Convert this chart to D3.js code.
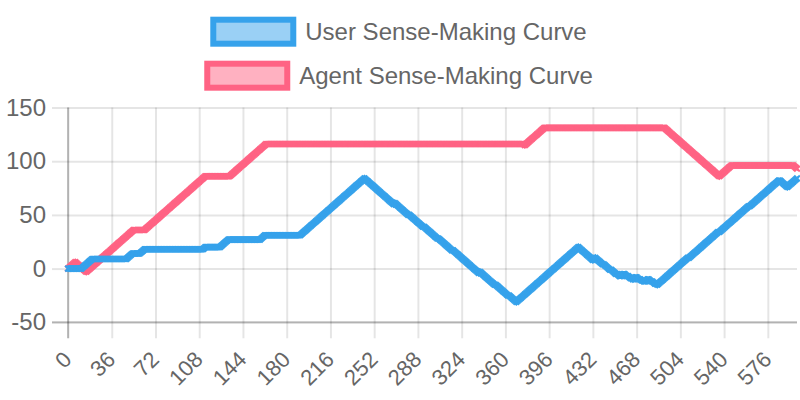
<!DOCTYPE html>
<html><head><meta charset="utf-8">
<script src="https://cdn.jsdelivr.net/npm/d3@7"></script>
<style>body{margin:0;background:#fff}svg{display:block}</style>
</head><body>
<svg id="chart" width="800" height="400"></svg>
<script>
const seriesNames = ["User Sense-Making Curve", "Agent Sense-Making Curve"];
const seriesColors = ["rgb(54,162,235)", "rgb(255,99,132)"];
const seriesFills = ["rgba(54,162,235,0.5)", "rgba(255,99,132,0.5)"];
const xTickLabels = [0,36,72,108,144,180,216,252,288,324,360,396,432,468,504,540,576];
const yTicks = [-50,0,50,100,150];

const userValues = [
0,0,0,0,0,0,0,0,0,0,0,0,1,2,3,4,5,6,7,8,9,
9,9,9,9,9,9,9,9,9,9,9,9,9,9,9,9,9,9,9,9,9,9,9,9,9,9,9,9,
10,11,12,13,14,14,14,14,14,14,14,15,16,17,18,
18,18,18,18,18,18,18,18,18,18,18,18,
18,18,18,18,18,18,18,18,18,18,18,18,
18,18,18,18,18,18,18,18,18,18,18,18,
18,18,18,18,18,18,18,18,18,18,18,18,
19,20,20,20,20,20,20,20,20,20,20,20,20,20,21,22,23,24,25,26,27,
27,27,27,27,27,27,27,27,27,27,27,27,27,
27,27,27,27,27,27,27,27,27,27,27,27,27,
28,29,30,31,
31,31,31,31,31,31,31,31,31,31,
31,31,31,31,31,31,31,31,31,31,
31,31,31,31,31,31,31,31,31,
32,33,34,35,36,37,38,39,40,41,42,43,44,45,46,47,48,49,50,51,52,53,54,55,56,57,58,59,60,61,62,63,64,65,66,67,68,69,70,71,72,73,74,75,76,77,78,79,80,81,82,83,84,
83,82,81,80,79,78,77,76,75,74,73,72,71,70,69,68,67,66,65,64,63,62,61,60,
61,60,
59,58,57,56,55,54,53,52,51,50,50,
49,48,47,46,45,44,43,42,41,40,39,39,
38,37,36,35,34,33,32,31,30,29,28,28,
27,26,25,24,23,22,21,20,19,18,17,17,
16,15,14,13,12,11,10,9,8,7,6,5,4,3,2,1,0,-1,-2,-3,-4,
-3,-4,
-5,-6,-7,-8,-9,-10,-11,-12,-13,-14,-15,-15,
-16,-17,-18,-19,-20,-21,-22,-23,-24,-25,-25,
-26,-27,-28,-29,-30,-31,
-30,-29,-28,-27,-26,-25,-24,-23,-22,-21,-20,-19,-18,-17,-16,-15,-14,-13,-12,-11,-10,-9,-8,-7,-6,-5,-4,-3,-2,-1,0,1,2,3,4,5,6,7,8,9,10,11,12,13,14,15,16,17,18,19,20,
19,18,17,16,15,14,13,12,11,10,9,8,
9,10,
9,8,7,6,5,4,4,3,2,1,0,-1,-1,-2,-3,-4,-5,-5,-6,-7,-7,
-6,-5,-5,
-6,-7,-7,-8,-9,-9,-10,
-9,-8,-8,
-9,-10,-10,-11,-11,-12,-12,
-11,-10,-10,
-11,-12,-12,-13,-14,-14,-15,
-14,-13,-12,-11,-10,-9,-8,-7,-6,-5,-4,-3,-2,-1,0,1,2,3,4,5,6,7,8,9,10,
10,
11,12,13,14,15,16,17,18,19,20,21,22,23,24,25,26,27,28,29,30,31,32,33,34,
34,
35,36,37,38,39,40,41,42,43,44,45,46,47,48,49,50,51,52,53,54,55,56,57,58,
58,
59,60,61,62,63,64,65,66,67,68,69,70,71,72,73,74,75,76,77,78,79,80,81,82,
82,
81,80,79,78,77,76,
77,78,79,80,81,82,83,84
];

const agentValues = [
0,
1,2,3,4,5,6,
5,4,3,2,1,0,-1,-2,-3,
-2,-1,0,1,2,3,4,5,6,7,8,9,10,11,12,13,14,15,16,17,18,19,20,21,22,23,24,25,26,27,28,29,30,31,32,33,34,35,36,
36,36,36,36,36,36,36,36,36,
37,38,39,40,41,42,43,44,45,46,47,48,49,50,51,52,53,54,55,56,57,58,59,60,61,62,63,64,65,66,67,68,69,70,71,72,73,74,75,76,77,78,79,80,81,82,83,84,85,86,
86,86,86,86,86,86,86,86,86,86,86,86,86,86,86,86,86,86,86,86,
87,88,89,90,91,92,93,94,95,96,97,98,99,100,101,102,103,104,105,106,107,108,109,110,111,112,113,114,115,116,
116,116,116,116,116,116,116,116,116,116,116,116,116,116,116,116,116,116,116,116,
116,116,116,116,116,116,116,116,116,116,116,116,116,116,116,116,116,116,116,116,
116,116,116,116,116,116,116,116,116,116,116,116,116,116,116,116,116,116,116,116,
116,116,116,116,116,116,116,116,116,116,116,116,116,116,116,116,116,116,116,116,
116,116,116,116,116,116,116,116,116,116,116,116,116,116,116,116,116,116,116,116,
116,116,116,116,116,116,116,116,116,116,116,116,116,116,116,116,116,116,116,116,
116,116,116,116,116,116,116,116,116,116,116,116,116,116,116,116,116,116,116,116,
116,116,116,116,116,116,116,116,116,116,116,116,116,116,116,116,116,116,116,116,
116,116,116,116,116,116,116,116,116,116,116,116,116,116,116,116,116,116,116,116,
116,116,116,116,116,116,116,116,116,116,116,116,116,116,116,116,116,116,116,116,
116,116,116,116,116,116,116,116,116,116,116,116,
115,
116,117,118,119,120,121,122,123,124,125,126,127,128,129,130,131,
131,131,131,131,131,131,131,131,131,131,131,131,131,131,131,131,131,131,131,131,
131,131,131,131,131,131,131,131,131,131,131,131,131,131,131,131,131,131,131,131,
131,131,131,131,131,131,131,131,131,131,131,131,131,131,131,131,131,131,131,131,
131,131,131,131,131,131,131,131,131,131,131,131,131,131,131,131,131,131,131,131,
131,131,131,131,131,131,131,131,131,131,131,131,131,131,131,131,131,131,131,
130,129,128,127,126,125,124,123,122,121,120,119,118,117,116,115,114,113,112,111,110,109,108,107,106,105,104,103,102,101,100,99,98,97,96,95,94,93,92,91,90,89,88,87,86,
87,88,89,90,91,92,93,94,95,96,
96,96,96,96,96,96,96,96,96,96,96,96,96,96,96,96,96,96,96,96,
96,96,96,96,96,96,96,96,96,96,96,96,96,96,96,96,96,96,96,96,
96,96,96,96,96,96,96,96,96,96,96,
95,94,93
];

const FONT = '"Helvetica Neue", Helvetica, Arial, "Liberation Sans", sans-serif';
const TEXT = "#666";
const X0 = 68, X1 = 797, YT = 107.5, YB = 322.3, TICK = 16;
const svg = d3.select("#chart");

const x = d3.scaleLinear().domain([0, userValues.length - 1]).range([X0, X1]);
const y = d3.scaleLinear().domain([yTicks[0], yTicks[yTicks.length - 1]]).range([YB, YT]);

// horizontal grid
svg.append("g").attr("transform", `translate(${X0},0)`)
  .call(d3.axisLeft(y).tickValues(yTicks).tickSize(-(X1 - X0)).tickFormat(""))
  .call(g => g.select(".domain").remove())
  .call(g => g.selectAll("line").attr("stroke", "rgba(0,0,0,0.1)").attr("stroke-width", 2));
// vertical grid
svg.append("g").attr("transform", `translate(0,${YB})`)
  .call(d3.axisBottom(x).tickValues(xTickLabels).tickSize(-(YB - YT)).tickFormat(""))
  .call(g => g.select(".domain").remove())
  .call(g => g.selectAll("line").attr("stroke", "rgba(0,0,0,0.1)").attr("stroke-width", 2));

// y axis labels + tick marks
svg.append("g").attr("transform", `translate(${X0},0)`)
  .call(d3.axisLeft(y).tickValues(yTicks).tickFormat(d => String(d))
    .tickSizeInner(TICK).tickSizeOuter(0).tickPadding(6))
  .call(g => g.select(".domain").remove())
  .call(g => g.selectAll("line").attr("stroke", "rgba(0,0,0,0.1)").attr("stroke-width", 2))
  .call(g => g.selectAll("text").attr("fill", TEXT).style("font-family", FONT).style("font-size", "24px"));

// x axis labels + tick marks
svg.append("g").attr("transform", `translate(0,${YB})`)
  .call(d3.axisBottom(x).tickValues(xTickLabels).tickFormat(d => String(d))
    .tickSizeInner(TICK).tickSizeOuter(0))
  .call(g => g.select(".domain").remove())
  .call(g => g.selectAll("line").attr("stroke", "rgba(0,0,0,0.1)").attr("stroke-width", 2))
  .call(g => g.selectAll("text")
    .attr("fill", TEXT).style("font-family", FONT).style("font-size", "22px")
    .attr("text-anchor", "end").attr("x", 0).attr("y", 0).attr("dy", "0.35em")
    .attr("transform", "translate(-1,33) rotate(-45)"));

// axis borders
svg.append("line").attr("x1", X0).attr("x2", X0).attr("y1", YT).attr("y2", YB + TICK)
  .attr("stroke", "rgba(0,0,0,0.22)").attr("stroke-width", 2);
svg.append("line").attr("x1", X0 - TICK).attr("x2", X1).attr("y1", YB).attr("y2", YB)
  .attr("stroke", "rgba(0,0,0,0.22)").attr("stroke-width", 2);

const series = [
  { name: seriesNames[1], values: agentValues, color: seriesColors[1] },
  { name: seriesNames[0], values: userValues, color: seriesColors[0] }
];
const line = d3.line().x((d, i) => x(i)).y(d => y(d)).curve(d3.curveLinear);
const R = 4;
function crossRot(cx, cy) {
  const o = R * Math.SQRT1_2;
  return `M${cx - o},${cy - o}L${cx + o},${cy + o}M${cx - o},${cy + o}L${cx + o},${cy - o}`;
}
series.forEach(s => {
  const g = svg.append("g");
  g.append("path").datum(s.values).attr("d", line)
    .attr("fill", "none").attr("stroke", s.color).attr("stroke-width", 6)
    .attr("stroke-linejoin", "miter").attr("stroke-miterlimit", 10);
  g.selectAll("path.pt").data(s.values).join("path").attr("class", "pt")
    .attr("d", (d, i) => crossRot(x(i), y(d)))
    .attr("fill", "none").attr("stroke", s.color).attr("stroke-width", 2);
});

// legend
const legendRows = [31.7, 75.7];
seriesNames.forEach((name, i) => {
  const g = svg.append("g");
  const t = g.append("text").text(name).attr("fill", TEXT)
    .style("font-family", FONT).style("font-size", "24px");
  const tw = t.node().getComputedTextLength();
  const total = 80 + 12 + tw;
  const sx = 400 - total / 2;
  g.insert("rect", "text").attr("x", sx).attr("y", legendRows[i] - 12).attr("width", 80).attr("height", 24)
    .attr("fill", seriesFills[i]).attr("stroke", seriesColors[i]).attr("stroke-width", 6);
  t.attr("x", sx + 92).attr("y", legendRows[i] + 8.4);
});
</script>
</body></html>
